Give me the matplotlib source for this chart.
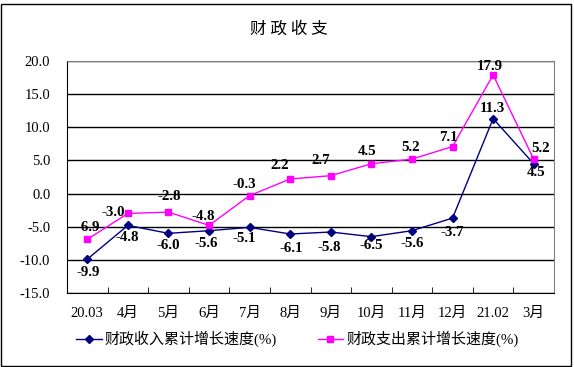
import matplotlib
matplotlib.use("Agg")
import matplotlib.pyplot as plt
from matplotlib.patches import Rectangle
from matplotlib.ticker import FixedLocator, FormatStrFormatter

categories = ["20.03", "4月", "5月", "6月", "7月", "8月", "9月", "10月", "11月", "12月", "21.02", "3月"]
income = [-9.9, -4.8, -6.0, -5.6, -5.1, -6.1, -5.8, -6.5, -5.6, -3.7, 11.3, 4.5]
expend = [-6.9, -3.0, -2.8, -4.8, -0.3, 2.2, 2.7, 4.5, 5.2, 7.1, 17.9, 5.2]
income_name = "财政收入累计增长速度(%)"
expend_name = "财政支出累计增长速度(%)"
title = "财 政 收 支"

# label offsets in pixels (style)
exp_off = [(1, 12), (-15, 1), (1, 16), (-6, 9), (-5, 11), (-11, 13), (-10, 15), (-4, 12), (-1, 12), (-4, 9), (-3, 8), (7, 11)]
inc_off = [(1, -13), (-1, -12), (0, -12), (-3, -13), (-5, -11), (1, -14), (-2, -15), (0, -9), (0, -13), (0, -14), (-1, 10), (2, -9)]

fam = ["Liberation Serif", "Noto Sans CJK SC"]
plt.rcParams["font.family"] = fam

fig = plt.figure(figsize=(5.74, 3.67), dpi=100)
ax = fig.add_axes([67/574, 1-293/367, (554-67)/574, (293-61)/367])

x = list(range(len(categories)))
navy = "#000080"
mag = "#FF00FF"
ax.plot(x, income, color=navy, lw=1, marker="D", ms=4.5, mec=navy, mfc=navy, label=income_name, zorder=3)
ax.plot(x, expend, color=mag, lw=1, marker="s", ms=4.5, mec=mag, mfc=mag, label=expend_name, zorder=3)

for i, v in enumerate(expend):
    ax.annotate(f"{v:.1f}", (i, v), xytext=exp_off[i], textcoords="offset pixels",
                ha="center", va="center", fontsize=10.8, fontweight="bold", family="Liberation Serif")
for i, v in enumerate(income):
    ax.annotate(f"{v:.1f}", (i, v), xytext=inc_off[i], textcoords="offset pixels",
                ha="center", va="center", fontsize=10.8, fontweight="bold", family="Liberation Serif")

ax.set_xlim(-0.5, len(categories) - 0.5)
ax.set_ylim(-15, 20)
ax.set_yticks([-15, -10, -5, 0, 5, 10, 15, 20])
ax.yaxis.set_major_formatter(FormatStrFormatter("%.1f"))
ax.grid(axis="y", color="black", lw=1)
ax.set_axisbelow(True)
ax.set_xticks(x)
ax.set_xticklabels(categories, fontsize=10.5)
ax.xaxis.set_minor_locator(FixedLocator([i + 0.5 for i in range(len(categories) - 1)]))
ax.tick_params(axis="x", which="major", length=0, pad=10)
ax.tick_params(axis="x", which="minor", direction="in", length=4, color="black")
ax.tick_params(axis="y", length=0, labelsize=10.5, pad=12)
for s in ["top", "right"]:
    ax.spines[s].set_color("#808080")
for s in ["left", "bottom"]:
    ax.spines[s].set_color("black")

fig.text(289/574, 1-29/367, title, ha="center", va="center", fontsize=12, family="Noto Sans CJK SC")

fig.legend(loc="center", bbox_to_anchor=(0.518, 1-339/367), ncol=2, frameon=False,
           fontsize=10.8, handlelength=1.7, handletextpad=0.2, columnspacing=2.7)

fig.patches.append(Rectangle((1/574, 1/367), 570/574, 362/367, transform=fig.transFigure,
                             fill=False, edgecolor="black", lw=1))

fig.savefig("out.png", dpi=100)
